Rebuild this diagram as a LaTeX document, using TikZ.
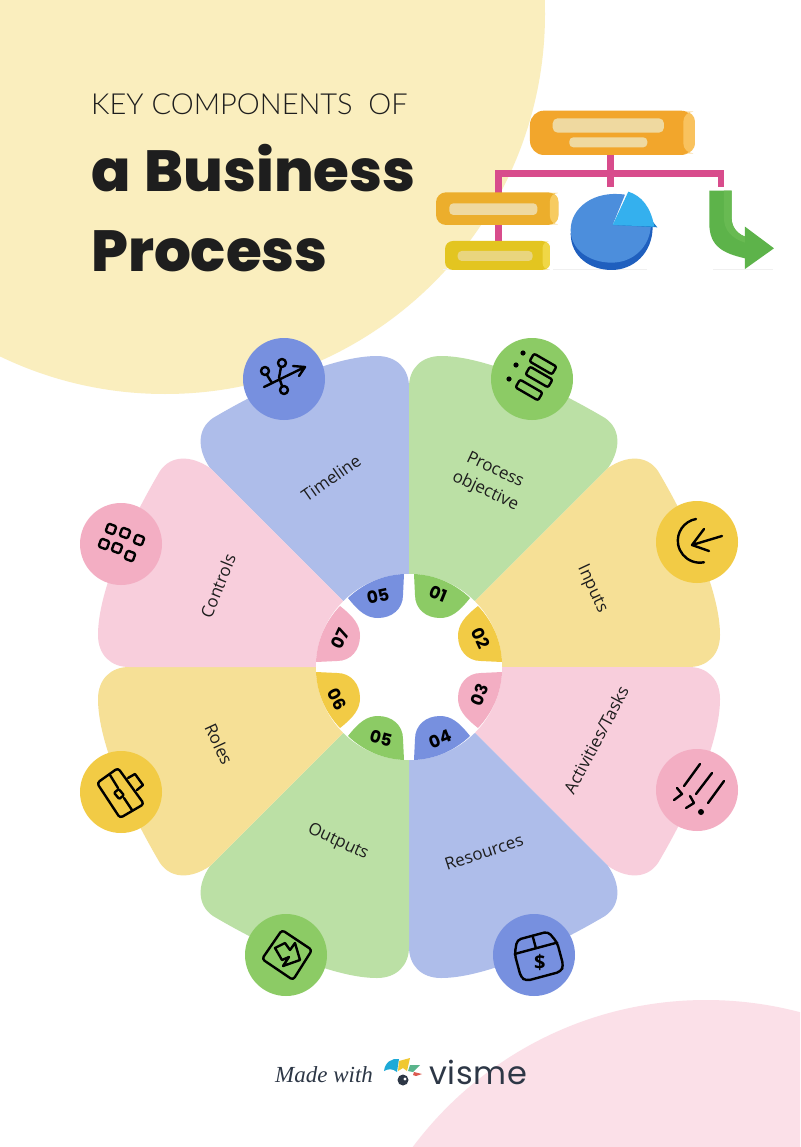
\documentclass[tikz,border=0pt]{standalone}
\usepackage{fontspec}
\setmainfont{Open Sans}
\newfontfamily\titlelight{Lato Light}
\newfontfamily\titleheavy{Poppins ExtraBold}
\newfontfamily\numfont{Poppins Bold}
\newfontfamily\scriptf{Liberation Serif}
\newfontfamily\brandf[LetterSpace=2]{Poppins}
\usetikzlibrary{calc}
\definecolor{bgyel}{HTML}{FAEEBE}
\definecolor{bgpink}{HTML}{FBE0E8}
\definecolor{pblue}{HTML}{AEBDEA}
\definecolor{pgreen}{HTML}{BBE0A5}
\definecolor{pyel}{HTML}{F6E096}
\definecolor{ppink}{HTML}{F8CEDC}
\definecolor{cblue}{HTML}{7790DF}
\definecolor{cgreen}{HTML}{8CCB65}
\definecolor{cyel}{HTML}{F2CB45}
\definecolor{cpink}{HTML}{F3AEC3}
\definecolor{ink}{HTML}{1E1E1E}
\definecolor{conn}{HTML}{D84C8C}
\definecolor{barc}{HTML}{EFD9A0}
\definecolor{brand}{HTML}{2D3746}
\definecolor{org1}{HTML}{F2A62C}
\definecolor{org2}{HTML}{F9C25E}
\definecolor{box2}{HTML}{ECAE2C}
\definecolor{box2b}{HTML}{F7CB60}
\definecolor{box3}{HTML}{E3C520}
\definecolor{box3b}{HTML}{F0D746}
\definecolor{bar3}{HTML}{E9D57E}
\definecolor{piedark}{HTML}{1F5FBE}
\definecolor{pietop}{HTML}{4C8EDC}
\definecolor{wedged}{HTML}{1978C8}
\definecolor{wedgel}{HTML}{34B0EE}
\definecolor{arrg}{HTML}{5DB34A}
\definecolor{arrl}{HTML}{68BA52}
\tikzset{
  lab/.style={font=\fontsize{17}{20}\selectfont,text=ink,align=center,inner sep=0},
  num/.style={font=\numfont\fontsize{17}{20}\selectfont,text=black,inner sep=0},
  ic/.style={draw=black,line width=2.4pt,line cap=round,line join=round},
  iconc/.style={circle,minimum size=82pt,inner sep=0}
}
\newcommand\petal[2]{\fill[#1,shift={(409,667)},cm={#2,(0,0)}]
  (0,0) -- (0,-280) .. controls (0,-298) and (12,-311) .. (32,-311)
  .. controls (72,-311) and (135,-285) .. (196,-249)
  .. controls (212,-238) and (212,-218) .. (199,-199) -- cycle;}
\newcommand\tab[2]{\fill[#1,shift={(409,667)},cm={#2,(0,0)}]
  (5,-93) .. controls (26,-92) and (45,-84) .. (61,-69)
  .. controls (50,-55) and (42,-49) .. (31,-49)
  .. controls (17,-49) and (6,-58) .. (6,-72) -- cycle;}
\begin{document}
\begin{tikzpicture}[x=1pt,y=-1pt]
\useasboundingbox (0,0) rectangle (800,1147);
\fill[white] (0,0) rectangle (800,1147);
\begin{scope}
\clip (0,0) rectangle (800,1147);
\fill[bgyel] (165,14) circle[radius=380];
\fill[bgpink] (706,1366) circle[radius=366];
\end{scope}
% title
\node[anchor=base west,inner sep=0,font=\titlelight\fontsize{29}{32}\selectfont,text=ink] (t1) at (91,115) {KEY COMPONENTS\ \ OF};
\node[anchor=base west,inner sep=0,font=\titleheavy\fontsize{58}{60}\selectfont,text=ink] (t2) at (91,192) {a\hspace{3pt} Business};
\node[anchor=base west,inner sep=0,font=\titleheavy\fontsize{58}{60}\selectfont,text=ink] (t3) at (91,272) {Process};
% illustration
\begin{scope}[shift={(420,90)},x=0.3333pt,y=-0.3333pt]
 \fill[conn] (562,190) rectangle (582,290);
 \fill[conn] (225,240) rectangle (912,260);
 \fill[conn] (225,240) rectangle (245,310);
 \fill[conn] (895,240) rectangle (912,290);
 \fill[conn] (225,400) rectangle (245,460);
 \fill[black!6] (400,538) rectangle (680,541);
 \fill[black!6] (880,538) rectangle (1060,541);
 \fill[black!6] (70,538) rectangle (390,541);
 % top box
 \fill[rounded corners=14pt,org1] (330,62) rectangle (825,195);
 \fill[rounded corners=10pt,org2] (790,65) rectangle (825,190);
 \fill[rounded corners=5pt,barc] (398,85) rectangle (732,128);
 \fill[rounded corners=4pt,barc] (448,142) rectangle (682,172);
 % box 2
 \fill[rounded corners=10pt,box2] (48,307) rectangle (415,405);
 \fill[rounded corners=8pt,box2b] (390,309) rectangle (415,403);
 \fill[rounded corners=4pt,barc] (88,340) rectangle (352,375);
 % box 3
 \fill[rounded corners=8pt,box3] (75,453) rectangle (390,540);
 \fill[rounded corners=6pt,box3b] (368,455) rectangle (390,538);
 \fill[rounded corners=4pt,bar3] (113,483) rectangle (338,513);
 % pie
 \fill[piedark] (452,430) .. controls (452,500) and (510,540) .. (575,540) .. controls (640,540) and (698,490) .. (698,410) -- (575,405) -- cycle;
 \fill[pietop] (578,405) -- (615,314) .. controls (520,300) and (452,355) .. (452,420) .. controls (452,480) and (510,518) .. (575,518) .. controls (640,518) and (690,470) .. (693,405) -- cycle;
 \fill[wedged] (690,385) -- (712,412) -- (578,405) -- cycle;
 \fill[wedgel] (578,405) -- (625,305) .. controls (665,318) and (692,350) .. (703,410) -- cycle;
 % arrow
 \fill[arrg] (868,302) -- (935,302) -- (935,385) .. controls (935,410) and (950,430) .. (975,440) -- (975,410) -- (1062,475) -- (975,537) -- (975,505) .. controls (910,490) and (868,470) .. (868,400) -- cycle;
 \fill[arrl] (912,302) -- (935,302) -- (935,385) .. controls (935,410) and (950,430) .. (975,440) -- (975,458) .. controls (935,445) and (912,420) .. (912,385) -- cycle;
\end{scope}
% petals
\petal{pblue}{-1,0,0,1}
\petal{pgreen}{1,0,0,1}
\petal{pyel}{0,1,1,0}
\petal{ppink}{0,-1,1,0}
\petal{pblue}{1,0,0,-1}
\petal{pgreen}{-1,0,0,-1}
\petal{pyel}{0,-1,-1,0}
\petal{ppink}{0,1,-1,0}
\fill[white] (409,667) circle[radius=93];
\tab{cblue}{-1,0,0,1}
\tab{cgreen}{1,0,0,1}
\tab{cyel}{0,1,1,0}
\tab{cpink}{0,-1,1,0}
\tab{cblue}{1,0,0,-1}
\tab{cgreen}{-1,0,0,-1}
\tab{cyel}{0,-1,-1,0}
\tab{cpink}{0,1,-1,0}
% numbers
\node[num,rotate=12] (n05a) at (378,596) {05};
\node[num,rotate=-22] (n01) at (438,594) {01};
\node[num,rotate=-65] (n02) at (481,638) {02};
\node[num,rotate=68] (n03) at (480,695) {03};
\node[num,rotate=22] (n04) at (440,739) {04};
\node[num,rotate=-15] (n05b) at (381,738) {05};
\node[num,rotate=-62] (n06) at (337,699) {06};
\node[num,rotate=65] (n07) at (340,639) {07};
% labels
\node[lab,rotate=35] (l1) at (331,478) {Timeline};
\node[lab,rotate=-25] (l2) at (490,481) {Process\\[3pt]objective};
\node[lab,rotate=-65] (l3) at (592,589) {Inputs};
\node[lab,rotate=62] (l4) at (596,740) {Activities/Tasks};
\node[lab,rotate=18] (l5) at (484,852) {Resources};
\node[lab,rotate=-25] (l6) at (338,842) {Outputs};
\node[lab,rotate=-65] (l7) at (219,744) {Roles};
\node[lab,rotate=68] (l8) at (218,586) {Controls};
% icon discs
\node[iconc,fill=cblue] (c1) at (284,379) {};
\node[iconc,fill=cgreen] (c2) at (532,379) {};
\node[iconc,fill=cyel] (c3) at (697,542) {};
\node[iconc,fill=cpink] (c4) at (697,790) {};
\node[iconc,fill=cblue] (c5) at (534,955) {};
\node[iconc,fill=cgreen] (c6) at (286,955) {};
\node[iconc,fill=cyel] (c7) at (121,792) {};
\node[iconc,fill=cpink] (c8) at (121,544) {};
% timeline icon
\begin{scope}[shift={(284,379)}]
 \draw[ic] (-20,8) -- (21,-12) (9,-13) -- (21,-12) -- (15,-3);
 \draw[ic] (-19,-8) circle[radius=4] (-17,-4) -- (-12,4);
 \draw[ic] (-2,-16) circle[radius=4] (-3,-12) -- (-5,-1);
 \draw[ic] (0,11) circle[radius=4] (-2,7) -- (-4,1);
\end{scope}
% process icon
\begin{scope}[shift={(532,379)}]
 \draw[ic,rotate around={-30:(11,-15)},rounded corners=2pt] (-2,-19.5) rectangle (24,-10.5);
 \draw[ic,rotate around={-30:(7,-2)},rounded corners=2pt] (-6,-6.5) rectangle (20,2.5);
 \draw[ic,rotate around={-30:(-3,11)},rounded corners=2pt] (-16,6.5) rectangle (10,15.5);
 \fill (-9,-26) circle[radius=2.6] (-16,-14) circle[radius=2.6] (-23,0) circle[radius=2.6];
\end{scope}
% inputs icon
\begin{scope}[shift={(697,542)}]
 \draw[ic] (-1,-23) arc[start angle=260,end angle=79,radius=22];
 \draw[ic] (25,-6) -- (-5,3) (7,-13) -- (-5,3) -- (12,9);
\end{scope}
% activities icon
\begin{scope}[shift={(697,790)}]
 \draw[ic] (3,-26) -- (-13,-4) (15,-17) -- (-1,4) (27,-9) -- (11,13);
 \draw[ic] (-20,-2) -- (-15,4) -- (-23,10) (-7,6) -- (-3,13) -- (-11,18);
 \fill (4,22) circle[radius=3];
\end{scope}
% resources icon
\begin{scope}[shift={(534,955)}]
 \begin{scope}[shift={(4,1)},rotate=15]
  \draw[ic,rounded corners=4pt] (-22,-8) -- (-16,-21) -- (16,-21) -- (22,-8) -- (22,16) -- (18,21) -- (-18,21) -- (-22,16) -- cycle;
  \draw[ic] (-22,-8) -- (22,-8) (0,-21) -- (0,-8);
  \node[inner sep=0,font=\bfseries\fontsize{20}{20}\selectfont] (dollar) at (0,7) {\$};
 \end{scope}
\end{scope}
% outputs icon
\begin{scope}[shift={(286,955)}]
 \draw[ic,rounded corners=3pt] (-4,-25) -- (26,-5) -- (7,25) -- (-24,4) -- cycle;
 \draw[ic] (-11,-7) -- (-1,-12) -- (4,-5) -- (9,-12) -- (14,5) -- (-3,11) -- (3,2) -- (-4,5) -- cycle;
\end{scope}
% roles icon
\begin{scope}[shift={(121,792)}]
 \draw[ic,rounded corners=3pt] (-3,-24) -- (23,12) -- (-1,26) -- (-24,-9) -- cycle;
 \draw[ic] (7,-14) -- (14,-18) -- (22,-7) -- (16,-2);
 \draw[ic] (-11,-17) -- (-3,-4) (3,6) -- (11,18);
 \draw[ic,rotate around={-50:(-2,2)},rounded corners=1pt] (-6,-1) rectangle (2,5);
\end{scope}
% controls icon
\begin{scope}[shift={(121,544)}]
 \foreach \q/\w in {-10/-15,4/-11,18/-4,-17/0,-4/4,9/12}
  \draw[ic,rotate around={-20:(\q,\w)},rounded corners=1.5pt] (\q-4.3,\w-4.3) rectangle (\q+4.3,\w+4.3);
\end{scope}
% footer
\node[anchor=base west,inner sep=0,font=\scriptf\itshape\fontsize{23}{26}\selectfont,text=brand] (made) at (275,1082) {Made with};
\definecolor{lgb}{HTML}{1EAAD7}
\definecolor{lgy}{HTML}{F0C832}
\definecolor{lgg}{HTML}{5AB48C}
\definecolor{lgr}{HTML}{DC5A50}
\fill[lgb] (384,1071) .. controls (385,1062) and (392,1058) .. (399,1059) -- (397,1072) .. controls (392,1068) and (388,1069) .. (384,1071) -- cycle;
\fill[lgy] (399,1061) -- (410,1058) -- (407,1071) -- (403,1068) -- (398,1071) -- cycle;
\fill[lgg] (410,1065) -- (420,1065) -- (413,1072) -- (408,1071) -- cycle;
\fill[lgr] (414,1072) -- (422,1074) -- (416,1076) -- (413,1075) -- cycle;
\fill[brand] (403,1080) circle[radius=5.5];
\fill[white] (405,1079) circle[radius=1.6];
\node[anchor=base west,inner sep=0,font=\brandf\fontsize{32}{32}\selectfont,text=brand] (visme) at (429,1084) {visme};
\end{tikzpicture}
\end{document}
